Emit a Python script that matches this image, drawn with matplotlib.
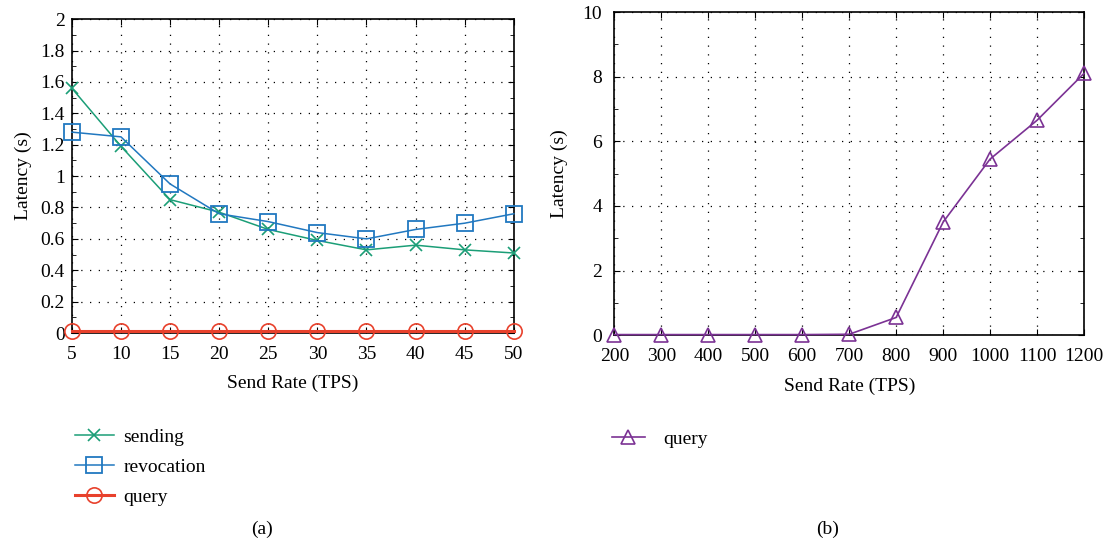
import matplotlib
matplotlib.use("Agg")
import matplotlib.pyplot as plt
from matplotlib.ticker import MultipleLocator

plt.rcParams['font.family'] = ['Liberation Serif', 'DejaVu Serif']
plt.rcParams['font.size'] = 14

# Data
rate_a = [5, 10, 15, 20, 25, 30, 35, 40, 45, 50]
sending = [1.56, 1.19, 0.85, 0.77, 0.66, 0.59, 0.53, 0.56, 0.53, 0.51]
revocation = [1.28, 1.25, 0.95, 0.76, 0.71, 0.64, 0.60, 0.66, 0.70, 0.76]
query_a = [0.01, 0.01, 0.01, 0.01, 0.01, 0.01, 0.01, 0.01, 0.01, 0.01]

rate_b = [200, 300, 400, 500, 600, 700, 800, 900, 1000, 1100, 1200]
query_b = [0.02, 0.02, 0.02, 0.02, 0.02, 0.03, 0.55, 3.5, 5.45, 6.65, 8.1]

c_send = '#1b9e77'
c_rev = '#2178c0'
c_query = '#e8412c'
c_purple = '#7b3294'

fig = plt.figure(figsize=(11.05, 5.46), dpi=100)
ax1 = fig.add_axes([0.065, 0.390, 0.400, 0.575])
ax2 = fig.add_axes([0.556, 0.386, 0.425, 0.592])

ax1.plot(rate_a, sending, color=c_send, marker='x', ms=9, mew=1.2, lw=1.1, label='sending', clip_on=False, zorder=3)
ax1.plot(rate_a, revocation, color=c_rev, marker='s', ms=11, mfc='none', mew=1.3, lw=1.1, label='revocation', clip_on=False, zorder=3)
ax1.plot(rate_a, query_a, color=c_query, marker='o', ms=11, mfc='none', mew=1.2, lw=2.2, label='query', clip_on=False, zorder=4)
ax1.set_xlim(5, 50)
ax1.set_ylim(0, 2)
ax1.set_xticks(rate_a)
ax1.set_yticks([0, 0.2, 0.4, 0.6, 0.8, 1, 1.2, 1.4, 1.6, 1.8, 2])
ax1.set_yticklabels(['0', '0.2', '0.4', '0.6', '0.8', '1', '1.2', '1.4', '1.6', '1.8', '2'])
ax1.yaxis.set_minor_locator(MultipleLocator(0.1))
ax1.set_xlabel('Send Rate (TPS)', labelpad=9)
ax1.set_ylabel('Latency (s)', labelpad=6)

ax2.plot(rate_b, query_b, color=c_purple, marker='^', ms=10, mfc='none', mew=1.2, lw=1.2, label='query', clip_on=False, zorder=3)
ax2.set_xlim(200, 1200)
ax2.set_ylim(0, 10)
ax2.set_xticks(rate_b)
ax2.set_yticks([0, 2, 4, 6, 8, 10])
ax2.yaxis.set_minor_locator(MultipleLocator(1))
ax2.set_xlabel('Send Rate (TPS)', labelpad=9)
ax2.set_ylabel('Latency (s)', labelpad=10)

for ax in (ax1, ax2):
    ax.grid(True, which='major', color='black', linestyle=(0, (1, 6)), linewidth=0.9)
    ax.tick_params(which='both', direction='in', top=True, right=True, length=4)
    ax.tick_params(which='minor', length=3)
    ax.tick_params(axis='both', which='major', labelsize=14)
    ax.tick_params(axis='x', which='major', pad=9)
    ax.tick_params(axis='y', which='major', pad=5)
    for s in ax.spines.values():
        s.set_linewidth(1.2)
ax2.tick_params(axis='y', which='major', pad=9)

fig.legend(handles=ax1.get_lines(), labels=['sending', 'revocation', 'query'],
           loc='upper left', bbox_to_anchor=(0.059, 0.234), frameon=False,
           borderpad=0, handlelength=2.0, handletextpad=0.5, labelspacing=0.65, fontsize=14)
fig.legend(handles=ax2.get_lines(), labels=['query'],
           loc='upper left', bbox_to_anchor=(0.545, 0.230), frameon=False,
           borderpad=0, handlelength=1.7, handletextpad=0.95, fontsize=14)

fig.text(0.237, 0.022, '(a)', ha='center', fontsize=14)
fig.text(0.749, 0.022, '(b)', ha='center', fontsize=14)

fig.savefig('out.png', dpi=100)
